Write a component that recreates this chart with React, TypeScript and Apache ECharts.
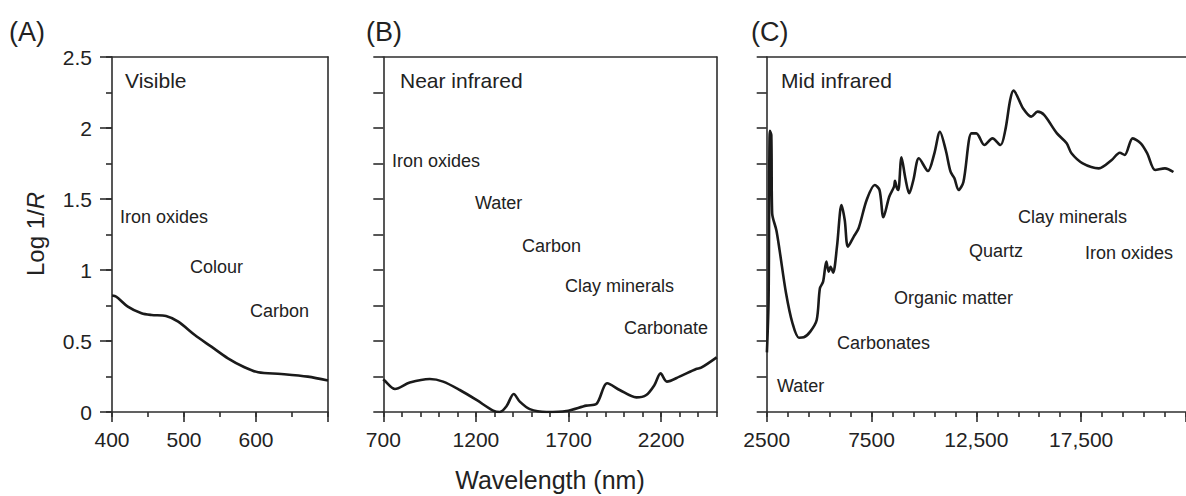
import React, { useEffect, useRef } from 'react';
import * as echarts from 'echarts';

// ---------- data ----------
const A_X = [400, 406, 422, 441, 455, 475, 492, 515, 538, 561, 584, 603, 635, 672, 700];
const A_Y = [0.82, 0.812, 0.742, 0.695, 0.683, 0.676, 0.636, 0.542, 0.46, 0.378, 0.315, 0.28, 0.268, 0.249, 0.222];

const B_X = [700, 704, 763, 843, 951, 1023, 1113, 1203, 1293, 1329, 1365, 1404, 1437, 1491, 1581, 1688, 1796, 1850, 1909, 1976, 2066, 2120, 2164, 2197, 2231, 2299, 2389, 2416, 2500];
const B_Y = [0.23, 0.225, 0.162, 0.207, 0.232, 0.214, 0.155, 0.085, 0.01, 0.0, 0.04, 0.127, 0.073, 0.02, 0.0, 0.007, 0.045, 0.056, 0.202, 0.155, 0.103, 0.12, 0.19, 0.272, 0.214, 0.249, 0.303, 0.312, 0.385];

const C_X = [2510, 2590, 2650, 2720, 2760, 2961, 3114, 3423, 3730, 4037, 4268, 4577, 4884, 5038, 5191, 5345, 5455, 5546, 5668, 5852, 6068, 6222, 6376, 6653, 6884, 7268, 7652, 7882, 8067, 8344, 8574, 8620, 8698, 8777, 8929, 9114, 9298, 9497, 9760, 10190, 10498, 10762, 11039, 11270, 11454, 11652, 11883, 12267, 12498, 12883, 13268, 13652, 13882, 14113, 14268, 14730, 15114, 15422, 15730, 16346, 16808, 17038, 17574, 18343, 18958, 19342, 19573, 19958, 20342, 20650, 21035, 21496, 21900];
const C_Y = [0.42, 0.79, 1.98, 1.95, 1.4, 1.28, 1.14, 0.836, 0.625, 0.523, 0.526, 0.566, 0.648, 0.871, 0.918, 1.059, 0.988, 1.023, 0.981, 1.164, 1.458, 1.352, 1.164, 1.235, 1.294, 1.493, 1.599, 1.563, 1.371, 1.516, 1.587, 1.629, 1.582, 1.563, 1.794, 1.646, 1.54, 1.634, 1.787, 1.697, 1.822, 1.974, 1.845, 1.692, 1.646, 1.563, 1.62, 1.962, 1.962, 1.88, 1.927, 1.88, 1.986, 2.197, 2.263, 2.138, 2.08, 2.115, 2.092, 1.962, 1.892, 1.822, 1.751, 1.716, 1.775, 1.826, 1.81, 1.927, 1.892, 1.822, 1.704, 1.716, 1.69];

const A_MAJOR = [400, 500, 600, 700];
const A_LABELS = [400, 500, 600];
const B_MAJOR = [700, 1200, 1700, 2200];
const C_MAJOR = [2500, 7500, 12500, 17500, 22500];
const C_LABELS = [2500, 7500, 12500, 17500];
const Y_MAJOR = [0, 0.5, 1, 1.5, 2, 2.5];

const PANEL_LETTERS = ['(A)', '(B)', '(C)'];
const PANEL_TITLES = ['Visible', 'Near infrared', 'Mid infrared'];
const A_NOTES = ['Iron oxides', 'Colour', 'Carbon'];
const B_NOTES = ['Iron oxides', 'Water', 'Carbon', 'Clay minerals', 'Carbonate'];
const C_NOTES = ['Clay minerals', 'Quartz', 'Iron oxides', 'Organic matter', 'Carbonates', 'Water'];

// ---------- helpers ----------
const FONT = "'Liberation Sans', Arial, Helvetica, sans-serif";
const INK = '#1a1a1a';
const AXIS = '#2e2e2e';
const TXT = '#222222';

function steps(a: number, b: number, s: number): number[] {
  const out: number[] = [];
  const n = Math.round((b - a) / s);
  for (let i = 0; i <= n; i++) out.push(Math.round((a + i * s) * 1000) / 1000);
  return out;
}

function fmtNum(v: number): string {
  if (v >= 10000) return v.toLocaleString('en-US');
  return String(v);
}

const lineStyle = { color: AXIS, width: 1.6 };

function bottomAxes(grid: number, min: number, max: number, major: number[], labels: number[], minor: number[]) {
  return [
    {
      gridIndex: grid, type: 'value', min, max, position: 'bottom',
      axisLine: { show: true, onZero: false, lineStyle },
      axisTick: { show: true, length: 10, customValues: major, lineStyle },
      axisLabel: { show: true, customValues: labels, formatter: (v: number) => fmtNum(v), fontSize: 21, fontFamily: FONT, color: TXT, margin: 17 },
      splitLine: { show: false },
    },
    {
      gridIndex: grid, type: 'value', min, max, position: 'bottom',
      axisLine: { show: false, onZero: false },
      axisTick: { show: true, length: 5, customValues: minor, lineStyle },
      axisLabel: { show: false },
      splitLine: { show: false },
    },
    {
      gridIndex: grid, type: 'value', min, max, position: 'top',
      axisLine: { show: true, onZero: false, lineStyle },
      axisTick: { show: false },
      axisLabel: { show: false },
      splitLine: { show: false },
    },
  ];
}

function yAxisBase(grid: number) {
  return { gridIndex: grid, type: 'value', min: 0, max: 2.5, splitLine: { show: false } };
}

function note(text: string, x: number, y: number, size = 18) {
  return {
    type: 'text', x, y, silent: true,
    style: { text, fontSize: size, fontFamily: FONT, fill: TXT, align: 'left', verticalAlign: 'middle' },
  };
}

export default function App() {
  const ref = useRef<HTMLDivElement>(null);

  useEffect(() => {
    if (!ref.current) return;
    const chart = echarts.init(ref.current, undefined, { renderer: 'svg' });

    const yQuarter = steps(0, 2.5, 0.25);

    const xAxis = [
      ...bottomAxes(0, 400, 700, A_MAJOR, A_LABELS, steps(400, 700, 50)),
      ...bottomAxes(1, 700, 2500, B_MAJOR, B_MAJOR, steps(700, 2500, 100)),
      ...bottomAxes(2, 2500, 22500, C_MAJOR, C_LABELS, steps(2500, 22500, 1000)),
    ];

    const yAxis = [
      {
        ...yAxisBase(0), position: 'left',
        axisLine: { show: true, onZero: false, lineStyle },
        axisTick: { show: true, length: 12, customValues: Y_MAJOR, lineStyle },
        axisLabel: { show: true, customValues: Y_MAJOR, formatter: (v: number) => String(v), fontSize: 21, fontFamily: FONT, color: TXT, margin: 20 },
      },
      {
        ...yAxisBase(0), position: 'left',
        axisLine: { show: false, onZero: false },
        axisTick: { show: true, length: 6, customValues: yQuarter, lineStyle },
        axisLabel: { show: false },
      },
      {
        ...yAxisBase(0), position: 'right',
        axisLine: { show: true, onZero: false, lineStyle },
        axisTick: { show: false }, axisLabel: { show: false },
      },
      {
        ...yAxisBase(1), position: 'left',
        axisLine: { show: true, onZero: false, lineStyle },
        axisTick: { show: true, length: 10, customValues: yQuarter, lineStyle },
        axisLabel: { show: false },
      },
      {
        ...yAxisBase(1), position: 'right',
        axisLine: { show: true, onZero: false, lineStyle },
        axisTick: { show: false }, axisLabel: { show: false },
      },
      {
        ...yAxisBase(2), position: 'left',
        axisLine: { show: true, onZero: false, lineStyle },
        axisTick: { show: true, length: 10, customValues: yQuarter, lineStyle },
        axisLabel: { show: false },
      },
    ];

    const mkSeries = (xs: number[], ys: number[], xi: number, yi: number) => ({
      type: 'line', xAxisIndex: xi, yAxisIndex: yi,
      data: xs.map((x, i) => [x, ys[i]]),
      showSymbol: false, smooth: 0.3, clip: true,
      lineStyle: { color: INK, width: 2.6 },
      itemStyle: { color: INK },
    });

    const graphic: any[] = [
      // panel letters
      { type: 'text', x: 9, y: 32, style: { text: PANEL_LETTERS[0], fontSize: 27, fontFamily: FONT, fill: TXT, verticalAlign: 'middle' } },
      { type: 'text', x: 366, y: 32, style: { text: PANEL_LETTERS[1], fontSize: 27, fontFamily: FONT, fill: TXT, verticalAlign: 'middle' } },
      { type: 'text', x: 751, y: 32, style: { text: PANEL_LETTERS[2], fontSize: 27, fontFamily: FONT, fill: TXT, verticalAlign: 'middle' } },
      // panel titles
      note(PANEL_TITLES[0], 125, 80, 21),
      note(PANEL_TITLES[1], 400, 80, 21),
      note(PANEL_TITLES[2], 781, 80, 21),
      // panel A notes
      note(A_NOTES[0], 120, 217),
      note(A_NOTES[1], 190, 267),
      note(A_NOTES[2], 250, 311),
      // panel B notes
      note(B_NOTES[0], 392, 161),
      note(B_NOTES[1], 475, 203),
      note(B_NOTES[2], 522, 246),
      note(B_NOTES[3], 565, 286),
      note(B_NOTES[4], 624, 328),
      // panel C notes
      note(C_NOTES[0], 1018, 217),
      note(C_NOTES[1], 969, 251),
      note(C_NOTES[2], 1085, 253),
      note(C_NOTES[3], 894, 298),
      note(C_NOTES[4], 837, 343),
      note(C_NOTES[5], 777, 386),
      // axis titles
      {
        type: 'text', x: 35, y: 234, rotation: Math.PI / 2,
        style: {
          text: '{n|Log 1/}{i|R}', align: 'center', verticalAlign: 'middle',
          rich: {
            n: { fontSize: 24, fontFamily: FONT, fill: TXT, color: TXT },
            i: { fontSize: 24, fontFamily: FONT, fontStyle: 'italic', fill: TXT, color: TXT },
          },
        },
      },
      {
        type: 'text', x: 550, y: 480,
        style: { text: 'Wavelength (nm)', fontSize: 25, fontFamily: FONT, fill: TXT, align: 'center', verticalAlign: 'middle' },
      },
    ];

    chart.setOption({
      animation: false,
      backgroundColor: '#ffffff',
      grid: [
        { left: 112, top: 57, width: 216, height: 355 },
        { left: 383.3, top: 57, width: 333.4, height: 355 },
        { left: 766.7, top: 57, width: 433.3, height: 355 },
      ],
      xAxis,
      yAxis,
      series: [
        mkSeries(A_X, A_Y, 0, 0),
        mkSeries(B_X, B_Y, 3, 3),
        mkSeries(C_X, C_Y, 6, 5),
      ],
      graphic,
    } as any);

    return () => chart.dispose();
  }, []);

  return (
    <div
      ref={ref}
      style={{ position: 'fixed', left: 0, top: 0, width: 1186, height: 496, background: '#fff' }}
    />
  );
}
